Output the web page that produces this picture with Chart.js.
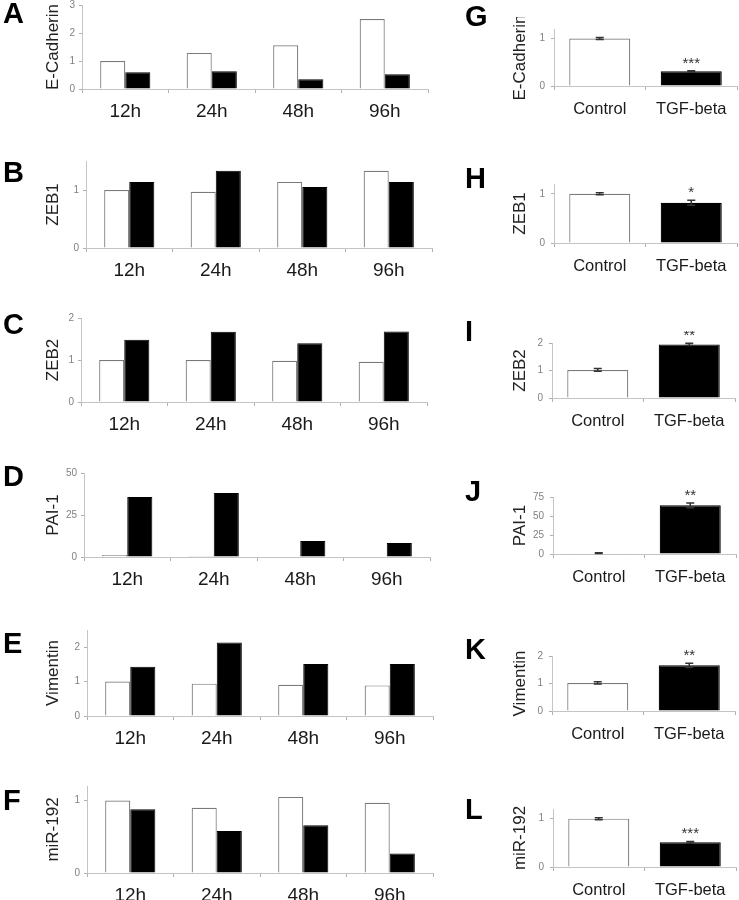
<!DOCTYPE html>
<html lang="en">
<head>
<meta charset="UTF-8">
<title>EMT markers</title>
<style>
body { margin: 0; background: #fff; }
#wrap { position: relative; width: 739px; height: 900px; overflow: hidden; }
#wrap canvas { position: absolute; }
.lt { position: absolute; font: bold 29px Arial, "Liberation Sans", sans-serif; line-height: 29px; color: #000; }
</style>
</head>
<body>
<div id="wrap"></div>

<script src="https://cdn.jsdelivr.net/npm/chart.js"></script>
<script>
// categories
const timeLabels = ['12h', '24h', '48h', '96h'];
const groupLabels = ['Control', 'TGF-beta'];

// A-F time course: white = control, black = TGF-beta
const ecadCtrl = [1.0, 1.29, 1.56, 2.5];
const ecadTgf  = [0.6, 0.63, 0.35, 0.53];
const zeb1Ctrl = [1.0, 0.97, 1.14, 1.33];
const zeb1Tgf  = [1.14, 1.33, 1.05, 1.14];
const zeb2Ctrl = [1.0, 1.0, 0.98, 0.96];
const zeb2Tgf  = [1.48, 1.67, 1.40, 1.68];
const paiCtrl  = [1.2, 0.6, 0.3, 0.3];
const paiTgf   = [35.7, 38.1, 9.5, 8.3];
const vimCtrl  = [1.0, 0.94, 0.91, 0.89];
const vimTgf   = [1.43, 2.14, 1.51, 1.51];
const mirCtrl  = [1.0, 0.90, 1.05, 0.97];
const mirTgf   = [0.88, 0.58, 0.66, 0.27];

// G-L: mean, error, significance
const ecadMean = [1.0, 0.31];  const ecadErr = [0.02, 0.01]; const ecadSig = ['', '***'];
const zeb1Mean = [1.0, 0.82];  const zeb1Err = [0.02, 0.05]; const zeb1Sig = ['', '*'];
const zeb2Mean = [1.02, 1.95]; const zeb2Err = [0.05, 0.04]; const zeb2Sig = ['', '**'];
const paiMean  = [1.0, 64];    const paiErr  = [0.5, 3];     const paiSig  = ['', '**'];
const vimMean  = [1.02, 1.66]; const vimErr  = [0.04, 0.08]; const vimSig  = ['', '**'];
const mirMean  = [1.0, 0.51];  const mirErr  = [0.02, 0.02]; const mirSig  = ['', '***'];

// y tick labels
const ticks0123 = [0, 1, 2, 3];
const ticks01 = [0, 1];
const ticks012 = [0, 1, 2];
const ticksPaiD = [0, 25, 50];
const ticksPaiJ = [0, 25, 50, 75];

const FONT = 'Arial, "Liberation Sans", sans-serif';
const PAD_T = 12, X_H = 44;
const wrap = document.getElementById('wrap');

const leftPanels = [
  {letter: 'A', title: 'E-Cadherin', ctrl: ecadCtrl, tgf: ecadTgf, max: 3,   ticks: ticks0123, top: 5,   h: 84, axisX: 82, lt: 3},
  {letter: 'B', title: 'ZEB1',       ctrl: zeb1Ctrl, tgf: zeb1Tgf, max: 1.5, ticks: ticks01,   top: 161, h: 87, axisX: 86, lt: 162},
  {letter: 'C', title: 'ZEB2',       ctrl: zeb2Ctrl, tgf: zeb2Tgf, max: 2,   ticks: ticks012,  top: 318, h: 84, axisX: 81, lt: 314},
  {letter: 'D', title: 'PAI-1',      ctrl: paiCtrl,  tgf: paiTgf,  max: 50,  ticks: ticksPaiD, top: 473, h: 84, axisX: 84, lt: 466},
  {letter: 'E', title: 'Vimentin',   ctrl: vimCtrl,  tgf: vimTgf,  max: 2.5, ticks: ticks012,  top: 630, h: 86, axisX: 87, lt: 633},
  {letter: 'F', title: 'miR-192',    ctrl: mirCtrl,  tgf: mirTgf,  max: 1.2, ticks: ticks01,   top: 786, h: 87, axisX: 87, lt: 790}
];

const rightPanels = [
  {letter: 'G', title: 'E-Cadherin', mean: ecadMean, err: ecadErr, sig: ecadSig, max: 1.2, ticks: ticks01,   top: 29,  h: 57, axisX: 554, lt: 6},
  {letter: 'H', title: 'ZEB1',       mean: zeb1Mean, err: zeb1Err, sig: zeb1Sig, max: 1.2, ticks: ticks01,   top: 184, h: 59, axisX: 554, lt: 168},
  {letter: 'I', title: 'ZEB2',       mean: zeb2Mean, err: zeb2Err, sig: zeb2Sig, max: 2,   ticks: ticks012,  top: 343, h: 55, axisX: 552, lt: 321},
  {letter: 'J', title: 'PAI-1',      mean: paiMean,  err: paiErr,  sig: paiSig,  max: 75,  ticks: ticksPaiJ, top: 497, h: 57, axisX: 553, lt: 481},
  {letter: 'K', title: 'Vimentin',   mean: vimMean,  err: vimErr,  sig: vimSig,  max: 2,   ticks: ticks012,  top: 656, h: 55, axisX: 552, lt: 639},
  {letter: 'L', title: 'miR-192',    mean: mirMean,  err: mirErr,  sig: mirSig,  max: 1.2, ticks: ticks01,   top: 809, h: 58, axisX: 553, lt: 799}
];

// error bars + stars for the G-L panels
const errorBars = {
  id: 'errorBars',
  afterDatasetsDraw(chart, args, opts) {
    if (!opts.err) return;
    const ctx = chart.ctx, y = chart.scales.y;
    const vals = chart.data.datasets[0].data;
    chart.getDatasetMeta(0).data.forEach((bar, i) => {
      const hi = y.getPixelForValue(vals[i] + opts.err[i]);
      const lo = y.getPixelForValue(vals[i] - opts.err[i]);
      ctx.save();
      ctx.strokeStyle = '#333';
      ctx.lineWidth = 1.5;
      ctx.beginPath();
      ctx.moveTo(bar.x, lo); ctx.lineTo(bar.x, hi);
      ctx.moveTo(bar.x - 4, hi); ctx.lineTo(bar.x + 4, hi);
      ctx.moveTo(bar.x - 4, lo); ctx.lineTo(bar.x + 4, lo);
      ctx.stroke();
      if (opts.sig[i]) {
        ctx.fillStyle = '#333';
        ctx.font = '15px ' + FONT;
        ctx.textAlign = 'center';
        ctx.textBaseline = 'alphabetic';
        ctx.fillText(opts.sig[i], bar.x, hi - 3);
      }
      ctx.restore();
    });
  }
};

function addLetter(text, x, capTop) {
  const d = document.createElement('div');
  d.className = 'lt';
  d.textContent = text;
  d.style.left = x + 'px';
  d.style.top = (capTop - 4) + 'px';
  wrap.appendChild(d);
}

function makeScales(p, x0, o) {
  return {
    x: {
      grid: {offset: true, drawOnChartArea: false, tickLength: 4, color: '#b0b0b0'},
      border: {color: '#c4c4c4'},
      ticks: {font: {family: FONT, size: o.xFont}, color: '#1a1a1a', padding: o.xPad, maxRotation: 0, autoSkip: false},
      afterFit: s => { s.height = X_H; }
    },
    y: {
      min: 0,
      max: p.max,
      grid: {drawOnChartArea: false, tickLength: 3, color: '#b0b0b0'},
      border: {color: '#c4c4c4'},
      ticks: {font: {family: FONT, size: 10}, color: '#808080', padding: o.yPad},
      afterBuildTicks: s => { s.ticks = p.ticks.map(v => ({value: v})); },
      afterFit: s => { s.width = p.axisX - x0; },
      title: {display: true, text: p.title, color: '#222', font: {family: FONT, size: 17},
              padding: {top: o.titleX - x0 - 10.2, bottom: 0}}
    }
  };
}

function makeCanvas(x0, w, p) {
  const c = document.createElement('canvas');
  c.width = w;
  c.height = PAD_T + p.h + X_H;
  c.style.left = x0 + 'px';
  c.style.top = (p.top - PAD_T) + 'px';
  wrap.appendChild(c);
  return c;
}

leftPanels.forEach(p => {
  const x0 = 0, w = 440, plotW = 346;
  const c = makeCanvas(x0, w, p);
  new Chart(c, {
    type: 'bar',
    data: {
      labels: timeLabels,
      datasets: [
        {data: p.ctrl, backgroundColor: '#fff', borderColor: '#7a7a7a', borderWidth: 1.2},
        {data: p.tgf, backgroundColor: '#000', borderColor: '#000', borderWidth: 1}
      ]
    },
    options: {
      responsive: false,
      animation: false,
      categoryPercentage: 0.58,
      barPercentage: 1,
      layout: {padding: {top: PAD_T, left: 0, bottom: 0, right: w - (p.axisX - x0) - plotW}},
      plugins: {legend: {display: false}, tooltip: {enabled: false}},
      scales: makeScales(p, x0, {xFont: 19, xPad: 7, yPad: 4, titleX: 53})
    }
  });
  addLetter(p.letter, 3, p.lt);
});

rightPanels.forEach(p => {
  const x0 = 440, w = 299, plotW = 183;
  const c = makeCanvas(x0, w, p);
  new Chart(c, {
    type: 'bar',
    data: {
      labels: groupLabels,
      datasets: [
        {data: p.mean, backgroundColor: ['#fff', '#000'], borderColor: ['#7a7a7a', '#000'], borderWidth: 1.2}
      ]
    },
    options: {
      responsive: false,
      animation: false,
      categoryPercentage: 0.667,
      barPercentage: 1,
      layout: {padding: {top: PAD_T, left: 0, bottom: 0, right: w - (p.axisX - x0) - plotW}},
      plugins: {legend: {display: false}, tooltip: {enabled: false}, errorBars: {err: p.err, sig: p.sig}},
      scales: makeScales(p, x0, {xFont: 16.5, xPad: 10, yPad: 6, titleX: 520})
    },
    plugins: [errorBars]
  });
  addLetter(p.letter, 465, p.lt);
});
</script>
</body>
</html>
